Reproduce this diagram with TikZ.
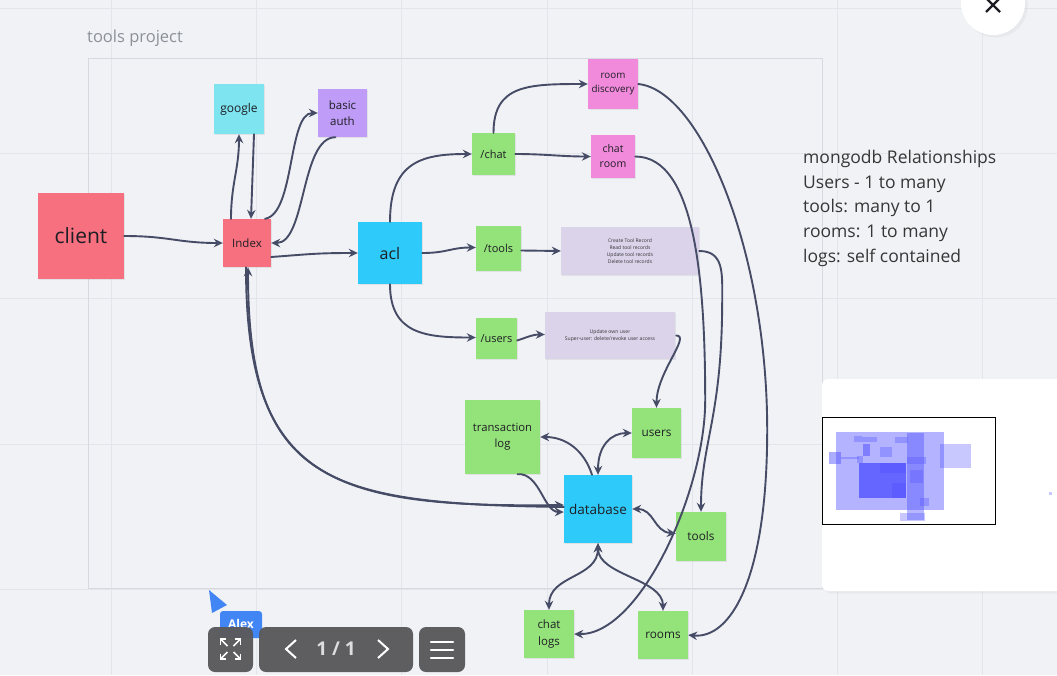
\documentclass[tikz,border=0pt]{standalone}
\usepackage{fontspec}
\setmainfont{Open Sans}
\usetikzlibrary{arrows.meta,shadows}

\definecolor{board}{HTML}{F0F2F6}
\definecolor{gridline}{HTML}{E2E6EB}
\definecolor{framecol}{HTML}{D6DAE0}
\definecolor{titlegray}{HTML}{8C9198}
\definecolor{notegray}{HTML}{363636}
\definecolor{stickyred}{HTML}{F7707F}
\definecolor{stickycyan}{HTML}{7EE4F0}
\definecolor{stickyviolet}{HTML}{BE9CF7}
\definecolor{stickyblue}{HTML}{2ECBFA}
\definecolor{stickygreen}{HTML}{94E37A}
\definecolor{stickypink}{HTML}{F18ADB}
\definecolor{notelilac}{HTML}{DAD3EA}
\definecolor{wirecol}{HTML}{464B66}
\definecolor{inkcol}{HTML}{1E1E24}
\definecolor{barcol}{HTML}{5A5A5C}
\definecolor{alexblue}{HTML}{4285F4}
\definecolor{mapblue}{HTML}{4B4BFF}

\newcommand{\boardfont}[2]{\fontsize{#1}{#2}\selectfont}

\begin{document}
\begin{tikzpicture}[x=1pt, y=-1pt,
  sticky/.style={inner sep=1pt, align=center, text=inkcol,
    drop shadow={opacity=0.15, shadow xshift=0.8pt, shadow yshift=-1.2pt}},
  wh/.style 2 args={minimum width=#1pt, minimum height=#2pt},
  wire/.style={draw=wirecol, line width=1.9pt, line cap=round,
    -{Stealth[length=9pt, width=8.5pt, inset=3pt]}},
  twoway/.style={wire, {Stealth[length=9pt, width=8.5pt, inset=3pt]}-{Stealth[length=9pt, width=8.5pt, inset=3pt]}},
  mapbox/.style={fill=mapblue, fill opacity=0.3}]
  \useasboundingbox (0,0) rectangle (1057,675);
  \fill[board] (0,0) rectangle (1057,675);
  % board grid
  \foreach \k in {0,...,6}
    \draw[gridline, line width=0.8pt] ({111+145.3*\k},0) -- ++(0,675);
  \foreach \k in {0,...,4}
    \draw[gridline, line width=0.8pt] (0,{8+145.3*\k}) -- ++(1057,0);
  % frame
  \draw[framecol, line width=0.8pt] (88,58) rectangle (822,588);
  \node[anchor=west, inner sep=0, text=titlegray, font=\boardfont{16.5}{19}] (frametitle) at (87,38) {tools project};

  % stickies
  \node[sticky, fill=stickyred, wh={86}{86}, font=\boardfont{21}{25}] (client) at (81,236) {client};
  \node[sticky, fill=stickyred, wh={48}{48}, font=\boardfont{11.5}{14}] (index) at (247,243) {Index};
  \node[sticky, fill=stickycyan, wh={50}{50}, font=\boardfont{12}{15}] (google) at (239,109) {google};
  \node[sticky, fill=stickyviolet, wh={49}{48}, font=\boardfont{11.5}{16.5}] (basicauth) at (342.5,113) {basic\\auth};
  \node[sticky, fill=stickyblue, wh={64}{62}, font=\boardfont{16}{19}] (acl) at (390,253) {acl};
  \node[sticky, fill=stickygreen, wh={43}{42}, font=\boardfont{11}{14}] (chat) at (493.5,154) {/chat};
  \node[sticky, fill=stickypink, wh={50}{50}, font=\boardfont{9.8}{14}] (roomdisc) at (613,84) {room\\discovery};
  \node[sticky, fill=stickypink, wh={44}{43}, font=\boardfont{10.5}{15}] (chatroom) at (613,156.5) {chat\\room};
  \node[sticky, fill=stickygreen, wh={45}{45}, font=\boardfont{11}{14}] (toolsroute) at (498.5,248.5) {/tools};
  \node[sticky, fill=notelilac, wh={138}{48}, text=notegray, font=\boardfont{5}{7}] (toolsnote) at (630,251)
    {Create Tool Record\\Read tool records\\Update tool records\\Delete tool records};
  \node[sticky, fill=stickygreen, wh={41}{41}, font=\boardfont{11}{14}] (usersroute) at (496.5,338.5) {/users};
  \node[sticky, fill=notelilac, wh={130}{47}, text=notegray, font=\boardfont{5.1}{7}] (usersnote) at (610,335.5)
    {Update own user\\Super-user: delete/revoke user access};
  \node[sticky, fill=stickygreen, wh={75}{74}, font=\boardfont{11.3}{16}] (txlog) at (502.5,437) {transaction\\log};
  \node[sticky, fill=stickygreen, wh={49}{50}, font=\boardfont{11.8}{14}] (users) at (656.5,433) {users};
  \node[sticky, fill=stickyblue, wh={68}{68}, font=\boardfont{13.5}{16}] (database) at (598,509) {database};
  \node[sticky, fill=stickygreen, wh={50}{49}, font=\boardfont{11.8}{14}] (tools) at (701,536.5) {tools};
  \node[sticky, fill=stickygreen, wh={50}{48}, font=\boardfont{11.5}{16.5}] (chatlogs) at (549,634) {chat\\logs};
  \node[sticky, fill=stickygreen, wh={50}{48}, font=\boardfont{11.8}{14}] (rooms) at (663,635) {rooms};

  % connectors
  \draw[wire] (client.east) .. controls +(45,0) and +(-45,0) .. (index.west);
  \draw[wire] ([xshift=-16pt]index.north) .. controls +(0,-35) and +(0,35) .. (google.south);
  \draw[wire] ([xshift=15pt]google.south) -- ([xshift=4pt]index.north);
  \draw[wire] ([xshift=18pt]index.north) .. controls +(30,-5) and +(-30,0) .. (basicauth.west);
  \draw[wire] ([xshift=-7pt]basicauth.south) .. controls +(-35,0) and +(35,0) .. (index.east);
  \draw[wire] ([yshift=-14pt]index.east) .. controls +(40,-3) and +(-40,0) .. (acl.west);
  \draw[wire] (acl.north) .. controls +(0,-60) and +(-50,0) .. (chat.west);
  \draw[wire] (chat.north) .. controls +(0,-48) and +(-60,0) .. (roomdisc.west);
  \draw[wire] (chat.east) .. controls +(30,0) and +(-30,0) .. (chatroom.west);
  \draw[wire] (acl.east) .. controls +(25,0) and +(-25,0) .. ([yshift=1pt]toolsroute.west);
  \draw[wire] ([yshift=-2pt]toolsroute.east) -- (toolsnote.west);
  \draw[wire] (acl.south) .. controls +(0,50) and +(-50,0) .. ([yshift=1pt]usersroute.west);
  \draw[wire] ([yshift=-2pt]usersroute.east) .. controls +(12,-4) and +(-12,0) .. ([yshift=1pt]usersnote.west);
  \draw[wire] ([xshift=1pt]usersnote.east) .. controls +(15,0) and +(0,-35) .. (users.north);
  \draw[wire] (toolsnote.east) .. controls +(25,0) and +(0,-25) .. ++(23,48)
    .. controls +(0,120) and +(0,-70) .. (tools.north);
  \draw[wire] (roomdisc.east) .. controls +(62,6) and +(0,-180) .. ++(129,346)
    .. controls +(0,150) and +(42,4) .. (rooms.east);
  \draw[wire] (chatroom.east) .. controls +(60,0) and +(0,-120) .. ++(70,244)
    .. controls +(0,90) and +(66,1) .. (chatlogs.east);
  \draw[wire] ([xshift=-1pt]index.south) .. controls +(0,213) and +(-233,3) .. ([yshift=4pt]database.west);
  \draw[wire] ([yshift=2pt]database.west) .. controls +(-236,-3) and +(0,216) .. ([xshift=1pt]index.south);
  \draw[wire] ([xshift=15pt]txlog.south) .. controls +(22,-2) and +(-20,0) .. ([yshift=-3pt]database.west);
  \draw[wire] ([xshift=-6pt]database.north) .. controls +(-8,-25) and +(25,0) .. (txlog.east);
  \draw[twoway] (database.north) .. controls +(0,-30) and +(-20,0) .. (users.west);
  \draw[twoway] (database.east) .. controls +(22,0) and +(-22,-2) .. ([yshift=3pt]tools.west);
  \draw[twoway] (database.south) .. controls +(0,35) and +(0,-35) .. (chatlogs.north);
  \draw[twoway] (database.south) .. controls +(0,32) and +(0,-32) .. (rooms.north);

  % relationships note
  \node[anchor=north west, inner sep=0, align=left, text=notegray, font=\boardfont{17.5}{24.7}] (relations) at (803,150)
    {mongodb Relationships\\Users - 1 to many\\tools: many to 1\\rooms: 1 to many\\logs: self contained};

  % minimap
  \fill[white, rounded corners=6pt, drop shadow={opacity=0.08}] (822,379) rectangle (1075,591);
  \draw[black, line width=1pt] (822,417) rectangle (995,524);
  \fill[mapbox, fill opacity=0.42] (836,432.3) rectangle (944,510);
  \fill[mapbox] (940.3,444) rectangle (970.7,467.7);
  \fill[mapbox, fill opacity=0.45] (828.7,452) rectangle (841,464.3);
  \fill[mapbox, fill opacity=0.75] (859,462.7) rectangle (906,498.3);
  \fill[mapbox] (854,435.7) rectangle (861.7,441.7);
  \fill[mapbox] (861.7,436.7) rectangle (876.7,442.3);
  \fill[mapbox, fill opacity=0.5] (862.7,444) rectangle (870,455.7);
  \fill[mapbox] (880,446.7) rectangle (891.7,456.7);
  \fill[mapbox] (895,436.7) rectangle (908.3,443.3);
  \fill[mapbox, fill opacity=0.4] (906.7,433.3) rectangle (924,520);
  \fill[mapbox] (906.7,457.3) rectangle (925.7,464.3);
  \fill[mapbox] (880,463) rectangle (906,473);
  \fill[mapbox] (891.7,483.3) rectangle (906,498.3);
  \fill[mapbox] (900,513.3) rectangle (925,520.7);
  \fill[mapbox] (920,498) rectangle (929.3,506);
  \fill[mapbox] (856.7,456) rectangle (863.3,462.7);
  \fill[mapbox] (841,457) rectangle (859,458.7);
  \fill[mapbox] (910,470) rectangle (923.3,483.3);
  \fill[mapbox] (1049,492.3) rectangle (1051.7,495);

  % close button
  \fill[white, drop shadow={opacity=0.08}] (993,3) circle (32);
  \draw[inkcol, line width=2.2pt] (986,-2) -- (1000,12) (1000,-2) -- (986,12);

  % cursor of Alex
  \fill[alexblue] (209,590) -- (227,605) -- (212,613) -- cycle;
  \fill[alexblue, rounded corners=3pt] (220,611) rectangle (262,638);
  \node[inner sep=0, text=white, font=\bfseries\boardfont{12}{14}] (alex) at (241,624) {Alex};

  % toolbar
  \fill[barcol, fill opacity=0.97, rounded corners=7pt] (208,627) rectangle (253,672);
  \fill[barcol, fill opacity=0.97, rounded corners=7pt] (259,627) rectangle (413,672);
  \fill[barcol, fill opacity=0.97, rounded corners=7pt] (419,627) rectangle (465,672);
  \foreach \sx/\sy in {1/1,1/-1,-1/1,-1/-1} {
    \draw[white, line width=1.6pt] ({230.5+3*\sx},{649+3*\sy}) -- ({230.5+10*\sx},{649+10*\sy});
    \draw[white, line width=1.6pt] ({230.5+10*\sx},{649+4.5*\sy}) -- ({230.5+10*\sx},{649+10*\sy}) -- ({230.5+4.5*\sx},{649+10*\sy});
  }
  \draw[white, line width=2pt] (296,640) -- (286,649) -- (296,658);
  \draw[white, line width=2pt] (378,640) -- (388,649) -- (378,658);
  \node[inner sep=0, text=white!80!barcol, font=\bfseries\boardfont{19}{22}] (pager) at (336,649) {1 / 1};
  \foreach \ly in {642,650,658}
    \draw[white, line width=2.5pt, line cap=round] (431,\ly) -- (453,\ly);
\end{tikzpicture}
\end{document}
